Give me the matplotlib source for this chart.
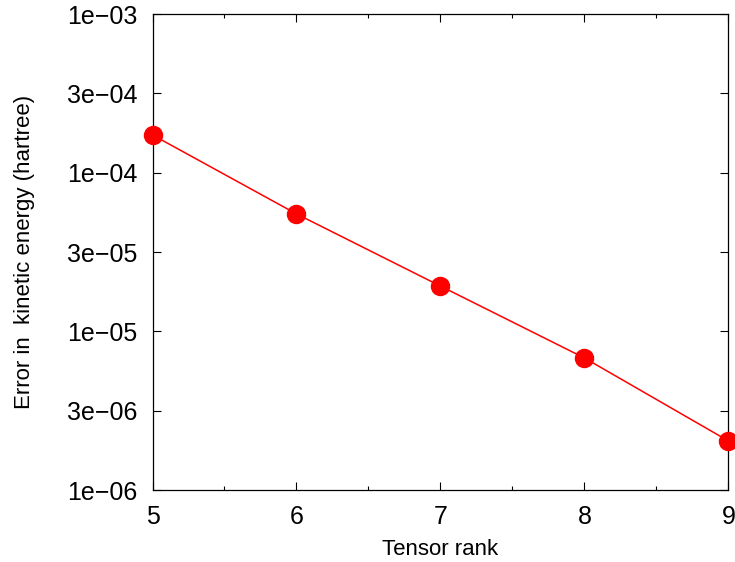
import numpy as np
import matplotlib
matplotlib.use("Agg")
import matplotlib.pyplot as plt

plt.rcParams['font.family'] = ['Liberation Sans', 'DejaVu Sans']

# data
rank = [5, 6, 7, 8, 9]
error = [1.73e-4, 5.5e-5, 1.93e-5, 6.8e-6, 2.04e-6]

# gnuplot-style half-decade ticks, labelled with %.0e
ytick_vals = [10 ** (-6 + 0.5 * k) for k in range(7)]
ytick_labels = ['1e\u221206', '3e\u221206', '1e\u221205', '3e\u221205',
                '1e\u221204', '3e\u221204', '1e\u221203']

fig = plt.figure(figsize=(7.35, 5.62), dpi=100)
ax = fig.add_axes([0.2075, 0.128, 0.7835, 0.847])

ax.plot(rank, error, '-', color='red', linewidth=1.1, zorder=3)
ax.plot(rank, error, 'o', color='red', markersize=13, clip_on=False, zorder=4)

ax.set_yscale('log')
ax.set_xlim(5, 9)
ax.set_ylim(1e-6, 1e-3)
ax.set_yticks(ytick_vals)
ax.set_yticklabels(ytick_labels)
ax.yaxis.set_minor_locator(matplotlib.ticker.NullLocator())
ax.set_xticks([5, 6, 7, 8, 9])
ax.set_xticks([5.5, 6.5, 7.5, 8.5], minor=True)

ax.tick_params(which='both', direction='in', top=True, right=True,
               labelsize=18, width=0.8)
ax.tick_params(which='major', length=6)
ax.tick_params(which='minor', length=3)
ax.tick_params(axis='y', pad=11)
ax.tick_params(axis='x', pad=11)
for s in ax.spines.values():
    s.set_linewidth(0.9)

ax.set_xlabel('Tensor rank', fontsize=16, labelpad=7)
ax.set_ylabel('Error in  kinetic energy (hartree)', fontsize=16, labelpad=23)

fig.savefig('out.png', dpi=100)
